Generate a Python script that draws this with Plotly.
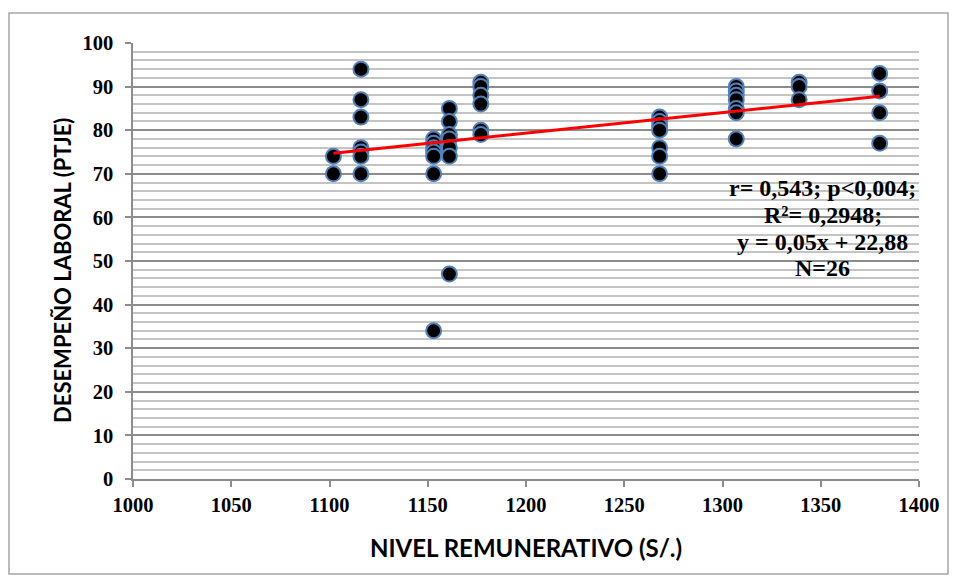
import plotly.graph_objects as go

# Data
nivel_remunerativo = (
    [1102] * 2 + [1116] * 7 + [1153] * 7 + [1161] * 7 + [1177] * 6
    + [1268] * 7 + [1307] * 7 + [1339] * 3 + [1380] * 4
)
desempeno = (
    [74, 70]
    + [94, 87, 83, 76, 75, 74, 70]
    + [78, 77, 76, 75, 74, 70, 34]
    + [85, 82, 79, 78, 76, 74, 47]
    + [91, 90, 88, 86, 80, 79]
    + [83, 82, 81, 80, 76, 74, 70]
    + [90, 89, 88, 87, 85, 84, 78]
    + [91, 90, 87]
    + [93, 89, 84, 77]
)

# Trend line (as drawn in the reference)
trend_x = [1102, 1380]
trend_slope = 0.0471
trend_intercept = 22.8
trend_y = [trend_slope * v + trend_intercept for v in trend_x]

x_ticks = [1000, 1050, 1100, 1150, 1200, 1250, 1300, 1350, 1400]
y_ticks = [0, 10, 20, 30, 40, 50, 60, 70, 80, 90, 100]

stats_lines = ["r= 0,543; p<0,004;", "R²= 0,2948;", "y = 0,05x + 22,88", "N=26"]
stats_y = [66.7, 60.6, 54.4, 48.4]

x_title = "NIVEL REMUNERATIVO (S/.)"
y_title = "DESEMPEÑO LABORAL (PTJE)"

# The page body has an 8px margin, so the figure is sized to fit the window
W, H = 949, 573
ml, mr, mt, mb = 125, 38, 35, 102
pw, ph = W - ml - mr, H - mt - mb


def px_to_paper_x(px):
    return (px - ml) / pw


def px_to_paper_y(py):
    return (H - mb - py) / ph


fig = go.Figure()
fig.add_trace(go.Scatter(
    x=nivel_remunerativo, y=desempeno, mode="markers",
    marker=dict(size=15, color="#000000", line=dict(color="#4F81BD", width=2)),
    showlegend=False, hoverinfo="x+y",
))
fig.add_trace(go.Scatter(
    x=trend_x, y=trend_y, mode="lines",
    line=dict(color="#FF0000", width=3), showlegend=False,
))

tick_font = dict(family="Liberation Serif", size=20.5, color="#000000")
stats_font = dict(family="Liberation Serif", size=24, color="#000000")

for txt, yy in zip(stats_lines, stats_y):
    fig.add_annotation(x=1351, y=yy, xref="x", yref="y", text="<b>%s</b>" % txt,
                       showarrow=False, xanchor="center", yanchor="middle",
                       font=stats_font)

fig.add_annotation(x=0.5, y=px_to_paper_y(539), xref="paper", yref="paper",
                   text="<b>%s</b>" % x_title, showarrow=False,
                   xanchor="center", yanchor="middle",
                   font=dict(family="Lato", size=24, color="#000000"))
fig.add_annotation(x=px_to_paper_x(54), y=px_to_paper_y(263), xref="paper", yref="paper",
                   text="<b>%s</b>" % y_title, showarrow=False, textangle=-90,
                   xanchor="center", yanchor="middle",
                   font=dict(family="Lato", size=22, color="#000000"))

# Outer chart border
fig.add_shape(type="rect", xref="paper", yref="paper",
              x0=px_to_paper_x(1), x1=px_to_paper_x(940),
              y0=px_to_paper_y(566), y1=px_to_paper_y(5),
              line=dict(color="#A6A6A6", width=1.5), fillcolor="rgba(0,0,0,0)",
              layer="below")

fig.update_layout(
    width=W, height=H,
    margin=dict(l=ml, r=mr, t=mt, b=mb),
    paper_bgcolor="#FFFFFF", plot_bgcolor="#FFFFFF",
    showlegend=False,
)

fig.update_xaxes(
    range=[1000, 1400], tickvals=x_ticks,
    ticktext=["<b>%d</b>" % v for v in x_ticks],
    showgrid=False, zeroline=False,
    showline=True, linecolor="#8C8C8C", linewidth=1.5,
    ticks="outside", ticklen=6, tickcolor="#8C8C8C", tickwidth=1.5,
    tickfont=tick_font, ticklabelstandoff=1, automargin=False,
)
fig.update_yaxes(
    range=[0, 100], tickvals=y_ticks,
    ticktext=["<b>%d</b>" % v for v in y_ticks],
    showgrid=True, gridcolor="#8C8C8C", gridwidth=1.5, zeroline=False,
    minor=dict(dtick=2, showgrid=True, gridcolor="#C4C4C4", gridwidth=1.5, ticks=""),
    showline=True, linecolor="#8C8C8C", linewidth=1.5,
    ticks="outside", ticklen=6, tickcolor="#8C8C8C", tickwidth=1.5,
    tickfont=tick_font, ticklabelstandoff=8, automargin=False,
)

fig.write_html("out.html")
